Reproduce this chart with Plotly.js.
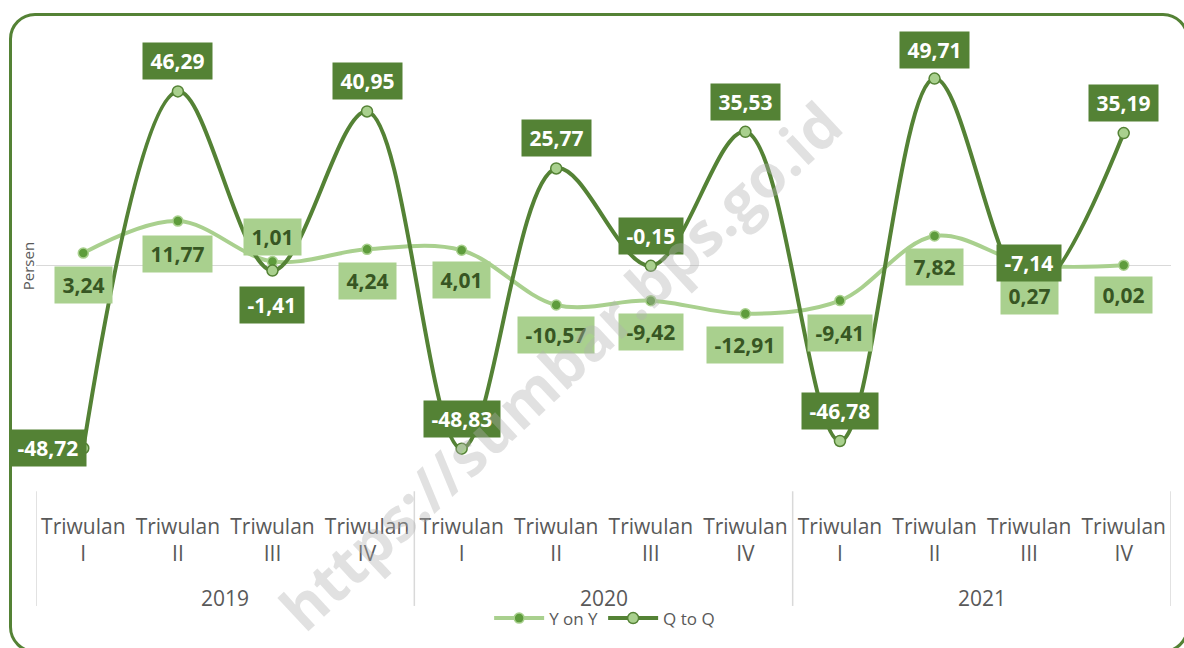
<!DOCTYPE html>
<html>
<head>
<meta charset="utf-8">
<script src="https://cdn.plot.ly/plotly-3.0.1.min.js"></script>
<style>
  html, body { margin: 0; padding: 0; background: #fff; }
  #wrap { position: relative; width: 1184px; height: 648px; overflow: hidden; }
  #frame { position: absolute; left: 9px; top: 13px; width: 1180px; height: 640px;
           border: 3px solid #548235; border-radius: 26px; box-sizing: border-box; }
  #chart { position: absolute; left: 0; top: 0; width: 1184px; height: 648px; }
</style>
</head>
<body>
<div id="wrap"><div id="frame"></div><div id="chart"></div></div>
<script>
// ---- data ----
const years = ['2019', '2020', '2021'];
const quarters = ['I', 'II', 'III', 'IV'];
const yoy = [3.24, 11.77, 1.01, 4.24, 4.01, -10.57, -9.42, -12.91, -9.41, 7.82, 0.27, 0.02];
const qtq = [-48.72, 46.29, -1.41, 40.95, -48.83, 25.77, -0.15, 35.53, -46.78, 49.71, -7.14, 35.19];
const seriesNames = ['Y on Y', 'Q to Q'];
const axisTitle = 'Persen';
const watermark = 'https://sumbar.bps.go.id';

// ---- derived ----
const cats = [];
const tickText = [];
years.forEach(y => quarters.forEach(q => { cats.push(y + ' ' + q); tickText.push('Triwulan<br>' + q); }));
const fmt = v => '\u2009' + v.toFixed(2).replace('.', ',') + '\u2009';

// label placement (style, not data)
const qShift = [[-35, 0], [0, 30], [0, -34], [0, 30], [0, 30], [0, 30], [0, 30], [0, 30], [0, 30], [0, 29], [0, 29], [0, 30]];
const yShift = [-32, -33, 24, -32, -30, -30, -31, -31, -32, -31, -32, -30];

const DARK = '#548235', LIGHT = '#a9d08e', TXT = '#595959';
const FF = 'Open Sans, Noto Sans, sans-serif';

const traces = [
  { x: cats, y: yoy, name: seriesNames[0], type: 'scatter', mode: 'lines+markers',
    line: { color: LIGHT, width: 4, shape: 'spline', smoothing: 1 },
    marker: { color: '#5e9c3c', size: 10, line: { color: LIGHT, width: 1.5 } } },
  { x: cats, y: qtq, name: seriesNames[1], type: 'scatter', mode: 'lines+markers',
    line: { color: DARK, width: 4, shape: 'spline', smoothing: 1 },
    marker: { color: LIGHT, size: 11, line: { color: DARK, width: 1.5 } } }
];

const annotations = [];
yoy.forEach((v, i) => annotations.push({
  x: cats[i], y: v, xref: 'x', yref: 'y', text: fmt(v), showarrow: false,
  xanchor: 'center', yanchor: 'middle',
  yshift: yShift[i], bgcolor: LIGHT, borderpad: 4,
  font: { family: FF, size: 21, color: '#375623', weight: 'bold' }
}));
qtq.forEach((v, i) => annotations.push({
  x: cats[i], y: v, xref: 'x', yref: 'y', text: fmt(v), showarrow: false,
  xanchor: 'center', yanchor: 'middle',
  xshift: qShift[i][0], yshift: qShift[i][1], bgcolor: DARK, borderpad: 4,
  font: { family: FF, size: 21, color: '#ffffff', weight: 'bold' }
}));
// year labels
years.forEach((y, k) => annotations.push({
  x: (k * 4 + 1.5), y: -0.236, xref: 'x', yref: 'paper', text: y, showarrow: false,
  xanchor: 'center', yanchor: 'middle',
  font: { family: FF, size: 21, color: TXT }
}));
// axis title
annotations.push({ x: -0.007, y: 0.474, xref: 'paper', yref: 'paper', text: axisTitle, textangle: -90,
  xanchor: 'center', yanchor: 'middle',
  showarrow: false, font: { family: FF, size: 15, color: TXT } });
// watermark
annotations.push({ x: 0.462, y: 0.262, xref: 'paper', yref: 'paper', text: watermark, textangle: -43,
  xanchor: 'center', yanchor: 'middle',
  showarrow: false, font: { family: FF, size: 60, color: 'rgba(175,175,175,0.38)', weight: 'bold' } });

const shapes = [];
for (let k = 0; k <= years.length; k++) {
  shapes.push({ type: 'line', xref: 'x', yref: 'paper', x0: k * 4 - 0.5, x1: k * 4 - 0.5, y0: -0.007, y1: -0.252,
    line: { color: '#d9d9d9', width: 1.5 } });
}

const layout = {
  width: 1184, height: 648,
  margin: { l: 36, r: 13, t: 20, b: 158 },
  paper_bgcolor: 'rgba(0,0,0,0)', plot_bgcolor: 'rgba(0,0,0,0)',
  font: { family: FF, color: TXT },
  showlegend: true,
  legend: { orientation: 'h', x: 0.501, xanchor: 'center', y: -0.279, yanchor: 'middle',
    font: { family: FF, size: 17, color: TXT }, itemwidth: 50, bgcolor: 'rgba(0,0,0,0)' },
  xaxis: { type: 'category', tickvals: cats, ticktext: tickText, showgrid: false, zeroline: false,
    showline: false, ticks: '', tickfont: { family: FF, size: 21, color: TXT }, ticklabelstandoff: 24,
    range: [-0.5, cats.length - 0.5], automargin: false },
  yaxis: { range: [-59.3, 65.3], showgrid: false, showticklabels: false, ticks: '',
    zeroline: true, zerolinecolor: '#d9d9d9', zerolinewidth: 1.5, automargin: false },
  annotations, shapes
};

Plotly.newPlot('chart', traces, layout, { displayModeBar: false, staticPlot: true });
</script>
</body>
</html>
